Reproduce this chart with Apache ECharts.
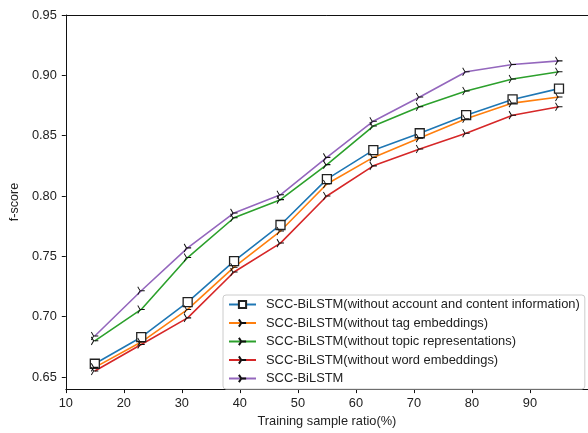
<!DOCTYPE html>
<html>
<head>
<meta charset="utf-8">
<script src="https://cdn.jsdelivr.net/npm/echarts@6/dist/echarts.min.js"></script>
<style>
  html, body { margin: 0; padding: 0; background: #fff; }
  #chart { width: 588px; height: 433px; }
</style>
</head>
<body>
<div id="chart"></div>
<script>
var ratio = [15, 23, 31, 39, 47, 55, 63, 71, 79, 87, 95];
var xTicks = [10, 20, 30, 40, 50, 60, 70, 80, 90];
var yTicks = [0.65, 0.70, 0.75, 0.80, 0.85, 0.90, 0.95];

var noAccount = [0.661, 0.683, 0.712, 0.746, 0.776, 0.814, 0.838, 0.852, 0.867, 0.880, 0.889];
var noTag     = [0.658, 0.679, 0.706, 0.741, 0.771, 0.810, 0.832, 0.848, 0.864, 0.877, 0.882];
var noTopic   = [0.680, 0.706, 0.749, 0.782, 0.797, 0.826, 0.858, 0.874, 0.887, 0.897, 0.903];
var noWord    = [0.655, 0.677, 0.699, 0.737, 0.761, 0.800, 0.825, 0.839, 0.852, 0.867, 0.874];
var full      = [0.684, 0.7215, 0.757, 0.786, 0.801, 0.832, 0.862, 0.882, 0.903, 0.909, 0.912];

var names = [
    'SCC-BiLSTM(without account and content information)',
    'SCC-BiLSTM(without tag embeddings)',
    'SCC-BiLSTM(without topic representations)',
    'SCC-BiLSTM(without word embeddings)',
    'SCC-BiLSTM'
];
var colors = ['#1f77b4', '#ff7f0e', '#2ca02c', '#d62728', '#9467bd'];

// matplotlib "tri_right" marker
var triRight = 'path://M0,0 L10,0 M0,0 L-5,-8.66 M0,0 L-5,8.66';

function pairs(ys) {
    return ratio.map(function (x, i) { return [x, ys[i]]; });
}

function makeSeries(idx, ys) {
    var s = {
        name: names[idx],
        type: 'line',
        data: pairs(ys),
        showAllSymbol: true,
        lineStyle: { color: colors[idx], width: 1.6 },
        emphasis: { disabled: true },
        animation: false
    };
    if (idx === 0) {
        s.symbol = 'rect';
        s.symbolSize = 9;
        s.itemStyle = { color: '#fff', borderColor: '#222', borderWidth: 1.3 };
    } else {
        s.symbol = triRight;
        s.symbolSize = [7, 8];
        s.itemStyle = { color: '#000', borderColor: '#111', borderWidth: 1 };
    }
    return s;
}

var chart = echarts.init(document.getElementById('chart'));
var fnt = 'Liberation Sans, Arial, sans-serif';

chart.setOption({
    backgroundColor: '#fff',
    animation: false,
    grid: {
        left: 61, top: 15, width: 531, height: 381,
        show: false
    },
    legend: {
        orient: 'vertical',
        left: 223, top: 295,
        width: 360,
        backgroundColor: '#fff',
        borderColor: '#ccc',
        borderWidth: 1,
        borderRadius: 3,
        padding: [2, 5, 3, 5],
        itemWidth: 27,
        itemHeight: 9,
        itemGap: 3.5,
        textStyle: { fontFamily: fnt, fontSize: 12.9, color: '#222', lineHeight: 15, padding: [0, 0, 0, 5] },
        data: names
    },
    xAxis: [{
        type: 'value',
        min: 10, max: 100,
        name: 'Training sample ratio(%)',
        nameLocation: 'middle',
        nameGap: 25,
        nameTextStyle: { fontFamily: fnt, fontSize: 12.8, color: '#222' },
        axisLine: { lineStyle: { color: '#111', width: 1 } },
        axisTick: { show: true, length: 4, inside: false, customValues: xTicks, lineStyle: { color: '#111' } },
        axisLabel: { customValues: xTicks, margin: 8, fontFamily: fnt, fontSize: 12.8, color: '#222' },
        splitLine: { show: false }
    }, {
        // top spine only
        type: 'value',
        position: 'top',
        min: 10, max: 100,
        axisLine: { show: true, lineStyle: { color: '#111', width: 1 } },
        axisTick: { show: false },
        axisLabel: { show: false },
        splitLine: { show: false }
    }],
    yAxis: {
        type: 'value',
        min: 0.64, max: 0.95,
        name: 'f-score',
        nameLocation: 'middle',
        nameGap: 40,
        nameTextStyle: { fontFamily: fnt, fontSize: 12.6, color: '#222' },
        axisLine: { show: true, lineStyle: { color: '#111', width: 1 } },
        axisTick: { show: true, length: 4, customValues: yTicks, lineStyle: { color: '#111' } },
        axisLabel: {
            customValues: yTicks, margin: 9, fontFamily: fnt, fontSize: 12.8, color: '#222',
            formatter: function (v) { return v.toFixed(2); }
        },
        splitLine: { show: false }
    },
    series: [
        makeSeries(0, noAccount),
        makeSeries(1, noTag),
        makeSeries(2, noTopic),
        makeSeries(3, noWord),
        makeSeries(4, full)
    ]
});
</script>
</body>
</html>
